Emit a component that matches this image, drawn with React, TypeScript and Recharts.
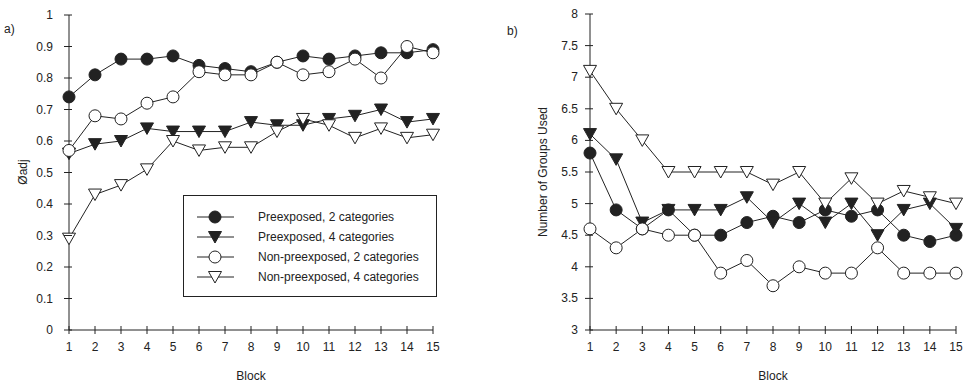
import React from "react";
import { LineChart, Line, XAxis, YAxis, Legend } from "recharts";

const blocks = [1, 2, 3, 4, 5, 6, 7, 8, 9, 10, 11, 12, 13, 14, 15];

// panel a: phi adj
const phiPre2 = [0.74, 0.81, 0.86, 0.86, 0.87, 0.84, 0.83, 0.82, 0.85, 0.87, 0.86, 0.87, 0.88, 0.88, 0.89];
const phiPre4 = [0.56, 0.59, 0.6, 0.64, 0.63, 0.63, 0.63, 0.66, 0.65, 0.65, 0.67, 0.68, 0.7, 0.66, 0.67];
const phiNon2 = [0.57, 0.68, 0.67, 0.72, 0.74, 0.82, 0.81, 0.81, 0.85, 0.81, 0.82, 0.86, 0.8, 0.9, 0.88];
const phiNon4 = [0.29, 0.43, 0.46, 0.51, 0.6, 0.57, 0.58, 0.58, 0.63, 0.67, 0.65, 0.61, 0.64, 0.61, 0.62];

// panel b: number of groups used
const grpPre2 = [5.8, 4.9, 4.6, 4.9, 4.5, 4.5, 4.7, 4.8, 4.7, 4.9, 4.8, 4.9, 4.5, 4.4, 4.5];
const grpPre4 = [6.1, 5.7, 4.7, 4.9, 4.9, 4.9, 5.1, 4.7, 5.0, 4.7, 5.0, 4.5, 4.9, 5.0, 4.6];
const grpNon2 = [4.6, 4.3, 4.6, 4.5, 4.5, 3.9, 4.1, 3.7, 4.0, 3.9, 3.9, 4.3, 3.9, 3.9, 3.9];
const grpNon4 = [7.1, 6.5, 6.0, 5.5, 5.5, 5.5, 5.5, 5.3, 5.5, 5.0, 5.4, 5.0, 5.2, 5.1, 5.0];

const phiTicks = [0, 0.1, 0.2, 0.3, 0.4, 0.5, 0.6, 0.7, 0.8, 0.9, 1];
const grpTicks = [3, 3.5, 4, 4.5, 5, 5.5, 6, 6.5, 7, 7.5, 8];

const series = [
  { key: "pre2", label: "Preexposed, 2 categories", shape: "circle", filled: true },
  { key: "pre4", label: "Preexposed, 4 categories", shape: "triangle", filled: true },
  { key: "non2", label: "Non-preexposed, 2 categories", shape: "circle", filled: false },
  { key: "non4", label: "Non-preexposed, 4 categories", shape: "triangle", filled: false },
];

const phiRows = blocks.map((b, i) => ({
  block: b,
  pre2: phiPre2[i],
  pre4: phiPre4[i],
  non2: phiNon2[i],
  non4: phiNon4[i],
}));

const grpRows = blocks.map((b, i) => ({
  block: b,
  pre2: grpPre2[i],
  pre4: grpPre4[i],
  non2: grpNon2[i],
  non4: grpNon4[i],
}));

const ink = "#222";
const font = "'Liberation Sans', Arial, sans-serif";

function Marker({ cx, cy, shape, filled }: any) {
  const fill = filled ? ink : "#fff";
  if (shape === "circle") {
    return <circle cx={cx} cy={cy} r={6} fill={fill} stroke={ink} strokeWidth={1} />;
  }
  return (
    <polygon
      points={`${cx - 6.5},${cy - 5.5} ${cx + 6.5},${cy - 5.5} ${cx},${cy + 6}`}
      fill={fill}
      stroke={ink}
      strokeWidth={1}
    />
  );
}

const yTick = (gap: number) => (props: any) => {
  const { x, y, payload } = props;
  return (
    <g>
      <line x1={x - 5} x2={x + 3} y1={y} y2={y} stroke={ink} />
      <text x={x - gap} y={y} dy={4} textAnchor="end" fontSize={12} fill={ink} fontFamily={font}>
        {String(payload.value)}
      </text>
    </g>
  );
};

const xTick = (props: any) => {
  const { x, y, payload } = props;
  return (
    <g>
      <line x1={x} x2={x} y1={y - 4} y2={y + 4} stroke={ink} />
      <text x={x} y={y} dy={21} textAnchor="middle" fontSize={12} fill={ink} fontFamily={font}>
        {String(payload.value)}
      </text>
    </g>
  );
};

function LegendBox() {
  return (
    <div
      style={{
        width: 254,
        height: 102,
        border: `1px solid ${ink}`,
        background: "#fff",
        boxSizing: "border-box",
        position: "relative",
        fontFamily: font,
      }}
    >
      {series.map((s, i) => (
        <div
          key={s.key}
          style={{ position: "absolute", left: 0, top: 11 + i * 20, height: 20, display: "flex", alignItems: "center" }}
        >
          <svg width={74} height={20}>
            <line x1={13} x2={50} y1={10} y2={10} stroke={ink} />
            <Marker cx={31} cy={10} shape={s.shape} filled={s.filled} />
          </svg>
          <span style={{ fontSize: 12, color: ink, whiteSpace: "nowrap" }}>{s.label}</span>
        </div>
      ))}
    </div>
  );
}

function seriesLines() {
  return series.map((s) => (
    <Line
      key={s.key}
      dataKey={s.key}
      stroke={ink}
      strokeWidth={1}
      isAnimationActive={false}
      dot={(p: any) => <Marker key={`${s.key}-${p.index}`} cx={p.cx} cy={p.cy} shape={s.shape} filled={s.filled} />}
      activeDot={false}
    />
  ));
}

const textStyle: React.CSSProperties = {
  position: "absolute",
  fontFamily: font,
  fontSize: 12,
  color: ink,
  whiteSpace: "nowrap",
};

export default function App() {
  return (
    <div style={{ position: "absolute", left: 0, top: 0, width: 970, height: 383, background: "#fff" }}>
      <div style={{ position: "absolute", left: 0, top: 0 }}>
        <LineChart width={480} height={383} data={phiRows} margin={{ top: 15, right: 47, bottom: 23, left: 0 }}>
          <XAxis
            dataKey="block"
            type="number"
            domain={[1, 15]}
            ticks={blocks}
            height={30}
            tickSize={0}
            tickMargin={0}
            tick={xTick}
            stroke={ink}
          />
          <YAxis
            type="number"
            domain={[0, 1]}
            ticks={phiTicks}
            width={69}
            tickSize={0}
            tickMargin={0}
            tick={yTick(16)}
            stroke={ink}
          />
          <Legend
            layout="horizontal"
            align="center"
            verticalAlign="middle"
            wrapperStyle={{ left: 183, top: 195, width: 254 }}
            content={() => <LegendBox />}
          />
          {seriesLines()}
        </LineChart>
      </div>
      <div style={{ position: "absolute", left: 490, top: 0 }}>
        <LineChart width={480} height={383} data={grpRows} margin={{ top: 14, right: 14, bottom: 23, left: 0 }}>
          <XAxis
            dataKey="block"
            type="number"
            domain={[1, 15]}
            ticks={blocks}
            height={30}
            tickSize={0}
            tickMargin={0}
            tick={xTick}
            stroke={ink}
          />
          <YAxis
            type="number"
            domain={[3, 8]}
            ticks={grpTicks}
            width={100}
            tickSize={0}
            tickMargin={0}
            tick={yTick(12)}
            stroke={ink}
          />
          {seriesLines()}
        </LineChart>
      </div>

      <div style={{ ...textStyle, left: 4, top: 22 }}>a)</div>
      <div style={{ ...textStyle, left: 507, top: 24 }}>b)</div>
      <div style={{ ...textStyle, left: 23, top: 172, transform: "translate(-50%, -50%) rotate(-90deg)" }}>Øadj</div>
      <div style={{ ...textStyle, left: 543, top: 172, transform: "translate(-50%, -50%) rotate(-90deg)" }}>
        Number of Groups Used
      </div>
      <div style={{ ...textStyle, left: 251, top: 369, transform: "translateX(-50%)" }}>Block</div>
      <div style={{ ...textStyle, left: 773, top: 369, transform: "translateX(-50%)" }}>Block</div>
    </div>
  );
}
